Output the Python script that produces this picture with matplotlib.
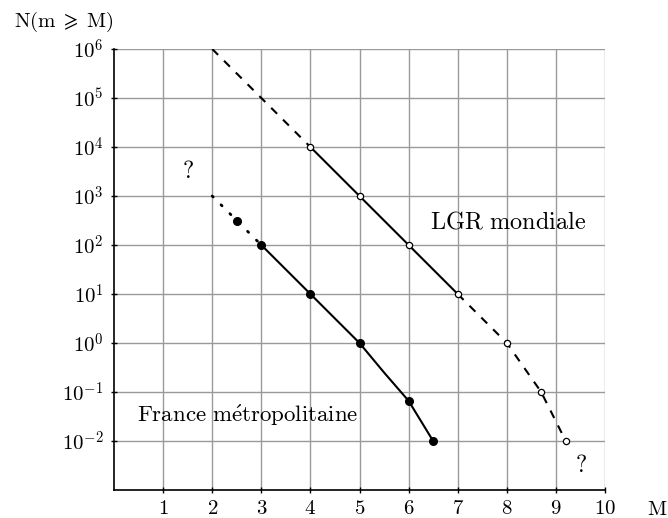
import matplotlib
matplotlib.use('Agg')
import matplotlib.pyplot as plt

plt.rcParams['mathtext.fontset'] = 'cm'
plt.rcParams['font.family'] = 'serif'
plt.rcParams['font.serif'] = ['cmr10', 'DejaVu Serif']
plt.rcParams['axes.formatter.use_mathtext'] = True

# LGR mondiale
lgr_dash1_x = [2, 4]
lgr_dash1_y = [1e6, 1e4]
lgr_x = [4, 5, 6, 7]
lgr_y = [1e4, 1e3, 1e2, 1e1]
lgr_dash2_x = [7, 8, 8.7, 9.2]
lgr_dash2_y = [1e1, 1e0, 1e-1, 1e-2]

# France metropolitaine
fr_dot_x = [2, 2.5, 3]
fr_dot_y = [1e3, 316, 1e2]
fr_x = [3, 4, 5, 5.5, 6, 6.5]
fr_y = [1e2, 1e1, 1e0, 0.25, 0.066, 0.01]
fr_pts_x = [2.5, 3, 4, 5, 6, 6.5]
fr_pts_y = [316, 1e2, 1e1, 1e0, 0.066, 0.01]

xticks = [1, 2, 3, 4, 5, 6, 7, 8, 9, 10]
yticks = [1e-2, 1e-1, 1e0, 1e1, 1e2, 1e3, 1e4, 1e5, 1e6]
ylabels = [r'$10^{-2}$', r'$10^{-1}$', r'$10^{0}$', r'$10^{1}$', r'$10^{2}$',
           r'$10^{3}$', r'$10^{4}$', r'$10^{5}$', r'$10^{6}$']

fig = plt.figure(figsize=(6.68, 5.18), dpi=100)
ax = fig.add_axes([114/668, 1-490/518, (605-114)/668, (490-49)/518])
ax.set_yscale('log')
ax.set_xlim(0, 10)
ax.set_ylim(1e-3, 1e6)

ax.grid(True, color='#9a9a9a', linewidth=1.0)
ax.set_axisbelow(True)
ax.minorticks_off()
ax.set_xticks(xticks)
ax.set_xticklabels([r'$%d$' % v for v in xticks], fontsize=15)
ax.set_yticks(yticks)
ax.set_yticklabels(ylabels, fontsize=15)
ax.tick_params(direction='inout', length=5, width=1, pad=5)
for s in ['top', 'right']:
    ax.spines[s].set_visible(False)
for s in ['left', 'bottom']:
    ax.spines[s].set_linewidth(1.2)

ax.plot(lgr_dash1_x, lgr_dash1_y, color='black', lw=1.5, dashes=(4, 4))
ax.plot(lgr_x, lgr_y, color='black', lw=1.5)
ax.plot(lgr_dash2_x, lgr_dash2_y, color='black', lw=1.5, dashes=(4, 4))
ax.plot(lgr_x + lgr_dash2_x[1:], lgr_y + lgr_dash2_y[1:], 'o', ms=4.5,
        mfc='white', mec='black', mew=0.9, zorder=5)

ax.plot(fr_dot_x, fr_dot_y, color='black', lw=2, linestyle=(0, (0.5, 4)),
        dash_capstyle='round')
ax.plot(fr_x, fr_y, color='black', lw=1.5)
ax.plot(fr_pts_x, fr_pts_y, 'o', ms=5.5, color='black', zorder=5)

ax.text(8.02, 10**2.47, r'$\mathrm{LGR\ mondiale}$', fontsize=17.5,
        ha='center', va='center')
ax.text(2.72, 10**-1.47, r'$\mathrm{France\ m\acute{e}tropolitaine}$', fontsize=16.5,
        ha='center', va='center')
ax.text(1.5, 10**3.5, '$?$', fontsize=17, ha='center', va='center')
ax.text(9.5, 10**-2.5, '$?$', fontsize=17, ha='center', va='center')

fig.text(64/668, 1-22/518, r'$\mathrm{N(m}\;\geqslant\;\mathrm{M)}$', fontsize=15,
         ha='center', va='center')
fig.text(657/668, 1-510/518, r'$\mathrm{M}$', fontsize=15, ha='center', va='center')

fig.savefig('out.png', dpi=100)
